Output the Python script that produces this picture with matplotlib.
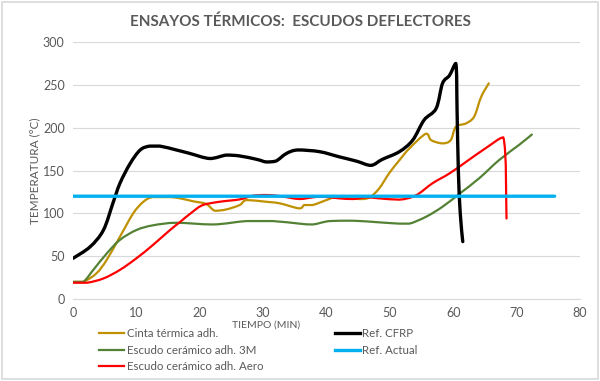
import numpy as np
import matplotlib.pyplot as plt
from matplotlib.patches import FancyBboxPatch, PathPatch
from matplotlib.path import Path
from matplotlib.lines import Line2D

plt.rcParams['font.family'] = ['Lato', 'DejaVu Sans']

# Cinta térmica adh.
cinta_t = [0, 1.6, 3.7, 5.3, 7.4, 9.5, 11.1, 12.6, 15.3, 16.9, 19, 21, 22.4, 24.2, 26.3,
           27.4, 30.5, 32.6, 35.7, 36.5, 37.8, 40, 41.5, 45.2, 46.8, 48.3, 49.9, 51.5,
           53.1, 55.7, 56.5, 58.3, 59.6, 60.4, 62, 63.3, 64.4, 65.6]
cinta_v = [20, 20, 30, 45.5, 72.7, 100, 113.5, 119, 119, 117.5, 114, 111, 103, 104.6, 109.7,
           115.5, 113.5, 111.7, 105.8, 109.7, 109.7, 115.5, 118.7, 116.7, 118.7, 129, 147, 162,
           176, 193, 185.5, 181.7, 185.5, 201, 205, 213, 236, 251.7]

# Escudo cerámico adh. 3M
esc3m_t = [0, 1.6, 3.2, 5.3, 7.4, 10, 12.6, 16.3, 22.1, 27.4, 31.5, 35.7, 37.8, 40.5,
           44.2, 48.3, 51.5, 53.1, 55.7, 58.3, 61, 64.1, 67.2, 70.4, 72.4]
esc3m_v = [20, 20, 34, 53, 69, 80.5, 86, 89, 87, 91, 91, 88, 87, 91,
           91.4, 89.5, 88, 88, 96, 107.7, 123, 141, 162, 180, 192]

# Escudo cerámico adh. Aero
aero_t = [0, 2.2, 4.8, 7.4, 10, 12.6, 15.3, 16.9, 18.9, 20.5, 23.1, 26.3, 28.4, 30.5,
          32.6, 35.7, 37.8, 39.4, 42, 44.2, 46.3, 48.3, 51.5, 54.1, 56.7, 59.4, 62, 65.1,
          67.9, 68.4]
aero_v = [19, 19, 24, 34, 47.5, 63, 80.5, 90, 102, 109.7, 113.5, 116.3, 120.6, 121.4,
          120.2, 116.7, 118.7, 119.5, 117.5, 116.7, 118.7, 117.5, 116, 121, 135, 146.6, 160, 176,
          188.7, 94]

# Ref. CFRP
cfrp_t = [0, 2.7, 4.8, 6.3, 7.4, 9, 10.6, 12.1, 13.7, 16.3, 18.4, 21.6, 24.2, 26.3, 29,
          30.5, 32, 33.7, 35.5, 38.9, 42, 44.7, 47, 48.8, 51.5, 53.6, 55.4, 57.3, 58.3,
          59.4, 60.4, 60.6, 60.8, 61.1, 61.5]
cfrp_v = [47.5, 61, 80.5, 112, 135, 158, 174, 178.5, 178.5, 174, 170, 164, 168, 167, 163,
          160, 161, 170, 174, 172, 166, 161, 156, 163, 172, 185.5, 209, 222.5, 251.7,
          261, 275, 220, 150, 100, 67]

# Ref. Actual
ref_t = [0, 76]
ref_v = [120, 120]


def smooth_line(ax, xs, ys, color, lw):
    # smoothed line like Excel: Catmull-Rom segments as cubic Beziers,
    # control point heights kept inside each segment so peaks do not overshoot
    p = np.column_stack([xs, ys]).astype(float)
    verts = [p[0]]
    codes = [Path.MOVETO]
    n = len(p)
    for i in range(n - 1):
        a, b = p[i], p[i + 1]
        p0 = p[i - 1] if i > 0 else a
        p3 = p[i + 2] if i + 2 < n else b
        c1 = a + (b - p0) / 6.0
        c2 = b - (p3 - a) / 6.0
        lo, hi = min(a[1], b[1]), max(a[1], b[1])
        c1[1] = np.clip(c1[1], lo, hi)
        c2[1] = np.clip(c2[1], lo, hi)
        verts += [c1, c2, b]
        codes += [Path.CURVE4] * 3
    ax.add_patch(PathPatch(Path(verts, codes), fill=False, edgecolor=color, lw=lw,
                           capstyle='round', joinstyle='round'))
    return Line2D([], [], color=color, lw=lw)


fig = plt.figure(figsize=(6, 3.81), dpi=100)
ax = fig.add_axes([0.1217, 0.2152, 0.845, 0.6745])

gray = '#595959'
h1 = smooth_line(ax, cinta_t, cinta_v, '#BF9000', 1.6)
h2 = smooth_line(ax, esc3m_t, esc3m_v, '#548235', 1.6)
h3 = smooth_line(ax, aero_t, aero_v, '#FF0000', 1.6)
h4 = smooth_line(ax, cfrp_t, cfrp_v, 'black', 2.4)
h5 = smooth_line(ax, ref_t, ref_v, '#00B0F0', 2.4)
labels = ['Cinta térmica adh.', 'Escudo cerámico adh. 3M', 'Escudo cerámico adh. Aero',
          'Ref. CFRP', 'Ref. Actual']

ax.set_xlim(0, 80)
ax.set_ylim(0, 300)
ax.set_xticks(range(0, 81, 10))
ax.set_yticks(range(0, 301, 50))
ax.grid(axis='y', color='#D9D9D9', lw=0.8)
ax.set_axisbelow(True)
for s in ['top', 'right', 'left']:
    ax.spines[s].set_visible(False)
ax.spines['bottom'].set_color('#D9D9D9')
ax.tick_params(length=0, labelsize=9, labelcolor=gray, pad=6)

ax.set_ylabel('TEMPERATURA (°C)', fontsize=8.5, color=gray, labelpad=2)
ax.set_xlabel('TIEMPO (MIN)', fontsize=7.5, color=gray)
ax.xaxis.set_label_coords(0.38, -0.085)

fig.text(0.5, 0.943, 'ENSAYOS TÉRMICOS:  ESCUDOS DEFLECTORES', ha='center', va='center',
         fontsize=11, fontweight='bold', color=gray)

leg = fig.legend(handles=[h1, h2, h3, h4, h5], labels=labels, ncol=2, loc='upper left',
                 bbox_to_anchor=(0.165, 0.138), frameon=False, fontsize=8.3,
                 handlelength=2.2, handletextpad=0.2, columnspacing=6.2,
                 labelspacing=0.45, borderaxespad=0, borderpad=0)
for t in leg.get_texts():
    t.set_color(gray)

fig.patches.append(FancyBboxPatch((0.004, 0.006), 0.992, 0.988, boxstyle='square,pad=0',
                                  transform=fig.transFigure, fill=False,
                                  edgecolor='#D9D9D9', lw=1.2))

fig.savefig('out.png', dpi=100)
